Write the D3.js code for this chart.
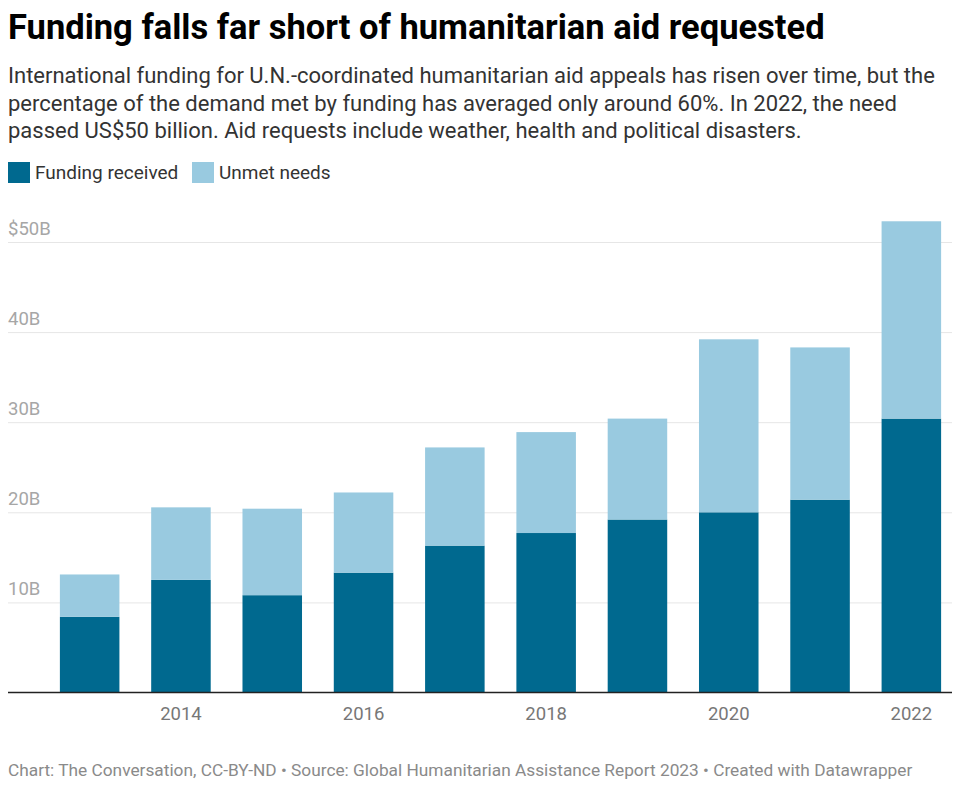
<!DOCTYPE html>
<html>
<head>
<meta charset="utf-8">
<script src="https://cdn.jsdelivr.net/npm/d3@7"></script>
<style>
  html, body { margin: 0; padding: 0; background: #fff; }
  svg { display: block; font-family: Roboto, "Noto Sans", sans-serif; }
</style>
</head>
<body>
<svg id="chart" width="960" height="790"></svg>
<script>
// ---- Data ----
const years = [2013, 2014, 2015, 2016, 2017, 2018, 2019, 2020, 2021, 2022];
const fundingReceived = [8.4, 12.5, 10.8, 13.3, 16.3, 17.7, 19.2, 20.0, 21.4, 30.4];
const unmetNeeds = [4.7, 8.05, 9.6, 8.9, 10.9, 11.2, 11.2, 19.2, 16.9, 21.9];
const yTicks = [10, 20, 30, 40, 50];
const xTickYears = [2014, 2016, 2018, 2020, 2022];
const seriesNames = ["Funding received", "Unmet needs"];
const seriesColors = ["#00698f", "#99cae0"];

const title = "Funding falls far short of humanitarian aid requested";
const subtitleLines = [
  "International funding for U.N.-coordinated humanitarian aid appeals has risen over time, but the",
  "percentage of the demand met by funding has averaged only around 60%. In 2022, the need",
  "passed US$50 billion. Aid requests include weather, health and political disasters."
];
const footer = "Chart: The Conversation, CC-BY-ND \u2022 Source: Global Humanitarian Assistance Report 2023 \u2022 Created with Datawrapper";

(function () {
// ---- Layout ----
const svg = d3.select("#chart");
const plotLeft = 8, plotRight = 952, plotTop = 242, plotBottom = 692.5;

const x = d3.scaleBand().domain(years).range([44, 957]).paddingInner(0.348).paddingOuter(0.174);
const y = d3.scaleLinear().domain([0, 50]).range([plotBottom, plotTop]);

// Title & subtitle
svg.append("text").attr("x", 8).attr("y", 39)
  .attr("font-size", 34.5).attr("font-weight", 700).attr("fill", "#000")
  .text(title);

svg.selectAll("text.sub").data(subtitleLines).join("text")
  .attr("class", "sub")
  .attr("x", 8).attr("y", (d, i) => 83.3 + i * 27.5)
  .attr("font-size", 22).attr("fill", "#333")
  .text(d => d);

// Legend
const legend = svg.append("g");
const legendX = [8, 192];
seriesNames.forEach((name, i) => {
  legend.append("rect").attr("x", legendX[i]).attr("y", 162).attr("width", 22).attr("height", 21)
    .attr("fill", seriesColors[i]);
  legend.append("text").attr("x", legendX[i] + 27).attr("y", 178.5)
    .attr("font-size", 19).attr("fill", "#333").text(name);
});

// Gridlines + y labels
const yAxis = d3.axisLeft(y).tickValues(yTicks).tickSize(-(plotRight - plotLeft))
  .tickFormat(d => d === 50 ? "$" + d + "B" : d + "B");
const gy = svg.append("g").attr("transform", `translate(${plotLeft},0)`).call(yAxis);
gy.select(".domain").remove();
gy.selectAll(".tick line").attr("stroke", "#e6e6e6").attr("stroke-width", 1);
gy.selectAll(".tick text")
  .attr("x", 0).attr("dy", -8).attr("text-anchor", "start")
  .attr("font-size", 18.5).attr("font-family", "Roboto, sans-serif").attr("fill", "#a6a6a6");

// Stacked bars
const data = years.map((yr, i) => ({ year: yr, funding: fundingReceived[i], unmet: unmetNeeds[i] }));
const stacked = d3.stack().keys(["funding", "unmet"])(data);

svg.append("g").selectAll("g").data(stacked).join("g")
  .attr("fill", (d, i) => seriesColors[i])
  .selectAll("rect").data(d => d).join("rect")
  .attr("x", d => x(d.data.year))
  .attr("width", x.bandwidth())
  .attr("y", d => y(d[1]))
  .attr("height", d => y(d[0]) - y(d[1]));

// Baseline
svg.append("line").attr("x1", plotLeft).attr("x2", plotRight).attr("y1", plotBottom).attr("y2", plotBottom)
  .attr("stroke", "#222").attr("stroke-width", 1.5);

// X axis labels
const xAxis = d3.axisBottom(x).tickValues(xTickYears).tickSize(0).tickPadding(14.5);
const gx = svg.append("g").attr("transform", `translate(0,${plotBottom})`).call(xAxis);
gx.select(".domain").remove();
gx.selectAll(".tick text").attr("font-size", 18.5).attr("font-family", "Roboto, sans-serif").attr("fill", "#777");

// Footer
svg.append("text").attr("x", 8).attr("y", 775.7)
  .attr("font-size", 17.3).attr("fill", "#8a8a8a").text(footer);
})();
</script>
</body>
</html>
